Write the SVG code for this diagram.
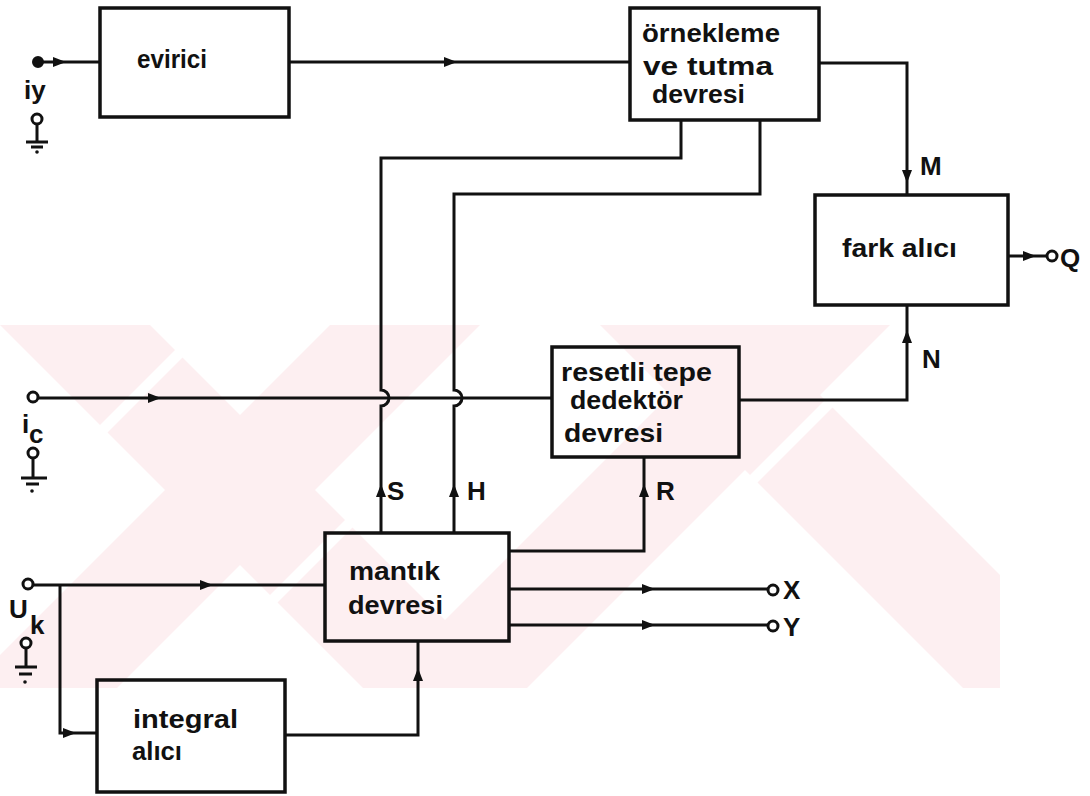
<svg xmlns="http://www.w3.org/2000/svg" xmlns:xlink="http://www.w3.org/1999/xlink" width="1090" height="796" viewBox="0 0 1090 796">
<style>
.box{fill:none;stroke:#111;stroke-width:3.5}
.ln{fill:none;stroke:#111;stroke-width:3;stroke-linejoin:miter}
.t{font-family:"Liberation Sans",Arial,sans-serif;font-weight:bold;font-size:26px;fill:#111}
.lb{font-family:"Liberation Sans",Arial,sans-serif;font-weight:bold;font-size:26px;fill:#111}
.term{fill:#fff;stroke:#111;stroke-width:3}
.wm{fill:#fdeff1}
.wg{fill:#fff}
</style>
<defs>
<path id="ah" d="M0,0 L-13,-5 L-13,5 Z" fill="#111"/>
<clipPath id="wmclip"><rect x="0" y="325" width="1000" height="363"/></clipPath>
</defs>
<rect width="1090" height="796" fill="#fff"/>
<g id="watermark" clip-path="url(#wmclip)">
<polygon class="wm" points="0,325 150,325 513,688 363,688"/>
<polygon class="wm" points="330,325 480,325 117,688 -33,688"/>
<polygon class="wm" points="600,325 750,325 1000,575 1000,688 963,688"/>
<polygon class="wm" points="740,325 890,325 527,688 377,688"/>
<polygon class="wg" points="200,325 215,325 -148,688 -163,688"/>
<polygon class="wg" points="540,325 555,325 192,688 177,688"/>
<polygon class="wg" points="900,325 915,325 552,688 537,688"/>
</g>
<g id="connectors">
<path class="ln" d="M38,62 H100"/>
<use xlink:href="#ah" transform="translate(66,62)"/>
<path class="ln" d="M289,62 H630"/>
<use xlink:href="#ah" transform="translate(457,62)"/>
<path class="ln" d="M819,63 H907 V195"/>
<use xlink:href="#ah" transform="translate(907,183) rotate(90)"/>
<path class="ln" d="M1008,256 H1048"/>
<use xlink:href="#ah" transform="translate(1036,256)"/>
<path class="ln" d="M739,400 H907 V305"/>
<use xlink:href="#ah" transform="translate(907,330) rotate(-90)"/>
<path class="ln" d="M38,398 H552"/>
<use xlink:href="#ah" transform="translate(161,398)"/>
<path class="ln" d="M381,533 V406 A8,8 0 0 0 381,390 V158 H681 V120"/>
<use xlink:href="#ah" transform="translate(381,484) rotate(-90)"/>
<path class="ln" d="M454,533 V406 A8,8 0 0 0 454,390 V194 H760 V120"/>
<use xlink:href="#ah" transform="translate(454,484) rotate(-90)"/>
<path class="ln" d="M509,551 H644 V457"/>
<use xlink:href="#ah" transform="translate(644,484) rotate(-90)"/>
<path class="ln" d="M33,585 H325"/>
<use xlink:href="#ah" transform="translate(213,585)"/>
<path class="ln" d="M60,585 V733 H97"/>
<use xlink:href="#ah" transform="translate(76,733)"/>
<path class="ln" d="M285,735 H418 V641"/>
<use xlink:href="#ah" transform="translate(418,668) rotate(-90)"/>
<path class="ln" d="M509,589 H768"/>
<use xlink:href="#ah" transform="translate(655,589)"/>
<path class="ln" d="M509,625 H768"/>
<use xlink:href="#ah" transform="translate(655,625)"/>
</g>
<g id="terminals">
<circle cx="38" cy="62" r="5" fill="#111" stroke="#111" stroke-width="2"/>
<text class="lb" x="24" y="99" font-size="24">iy</text>
<circle class="term" cx="37" cy="119" r="5"/>
<path class="ln" d="M37,124 V142 M26,142 H48 M31,147 H43"/>
<circle cx="37" cy="152" r="1.8" fill="#111"/>
<circle class="term" cx="33" cy="397" r="5"/>
<text class="lb" x="22" y="433">i</text>
<text class="lb" x="29" y="443" font-size="24">c</text>
<circle class="term" cx="33" cy="453" r="5"/>
<path class="ln" d="M33,458 V478 M21,478 H47 M26,484 H39"/>
<circle cx="32" cy="491" r="1.8" fill="#111"/>
<circle class="term" cx="28" cy="584" r="5"/>
<text class="lb" x="9" y="618">U</text>
<text class="lb" x="30" y="634" font-size="20">k</text>
<circle class="term" cx="26" cy="643" r="5"/>
<path class="ln" d="M26,648 V667 M15,667 H37 M19,674 H32"/>
<circle cx="25" cy="682" r="1.8" fill="#111"/>
<circle class="term" cx="1052" cy="256" r="5"/>
<text class="lb" x="1060" y="267">Q</text>
<circle class="term" cx="773" cy="590" r="5"/>
<text class="lb" x="783" y="599">X</text>
<circle class="term" cx="773" cy="626" r="5"/>
<text class="lb" x="783" y="636">Y</text>
</g>
<g id="labels">
<text class="lb" x="920" y="175">M</text>
<text class="lb" x="922" y="368">N</text>
<text class="lb" x="387" y="500">S</text>
<text class="lb" x="467" y="500">H</text>
<text class="lb" x="656" y="500">R</text>
</g>
<g id="evirici">
<rect class="box" x="100" y="8" width="189" height="109"/>
<text class="t" x="137" y="68" font-size="30" textLength="70" lengthAdjust="spacingAndGlyphs">evirici</text>
</g>
<g id="ornekleme">
<rect class="box" x="630" y="8" width="189" height="112"/>
<text class="t" x="642" y="42" textLength="138" lengthAdjust="spacingAndGlyphs">örnekleme</text>
<text class="t" x="643" y="75" textLength="130" lengthAdjust="spacingAndGlyphs">ve tutma</text>
<text class="t" x="652" y="103" textLength="93" lengthAdjust="spacingAndGlyphs">devresi</text>
</g>
<g id="fark">
<rect class="box" x="815" y="195" width="193" height="110"/>
<text class="t" x="842" y="257" textLength="115" lengthAdjust="spacingAndGlyphs">fark alıcı</text>
</g>
<g id="resetli">
<rect class="box" x="552" y="347" width="187" height="110"/>
<text class="t" x="561" y="381" textLength="151" lengthAdjust="spacingAndGlyphs">resetli tepe</text>
<text class="t" x="570" y="409" textLength="113" lengthAdjust="spacingAndGlyphs">dedektör</text>
<text class="t" x="564" y="442" textLength="99" lengthAdjust="spacingAndGlyphs">devresi</text>
</g>
<g id="mantik">
<rect class="box" x="325" y="533" width="184" height="108"/>
<text class="t" x="349" y="580" textLength="91" lengthAdjust="spacingAndGlyphs">mantık</text>
<text class="t" x="348" y="614" textLength="95" lengthAdjust="spacingAndGlyphs">devresi</text>
</g>
<g id="integral">
<rect class="box" x="97" y="680" width="188" height="112"/>
<text class="t" x="133" y="728" textLength="105" lengthAdjust="spacingAndGlyphs">integral</text>
<text class="t" x="132" y="760" textLength="50" lengthAdjust="spacingAndGlyphs">alıcı</text>
</g>
</svg>
